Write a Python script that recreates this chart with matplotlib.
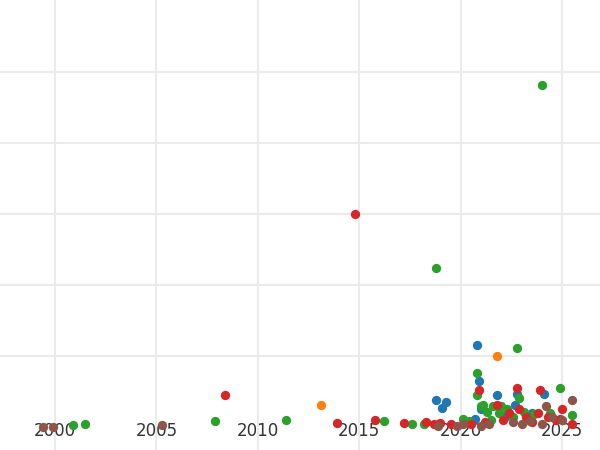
import matplotlib
matplotlib.use("Agg")
import matplotlib.pyplot as plt

blue_x = [2020.8, 2020.9, 2021.8, 2018.8, 2019.3, 2019.1, 2022.8, 2024.1, 2022.7, 2021.0, 2020.7, 2023.5, 2022.2]
blue_y = [1.15, 0.65, 0.45, 0.39, 0.35, 0.27, 0.47, 0.47, 0.32, 0.25, 0.12, 0.2, 0.15]
orange_x = [2021.8, 2013.1]
orange_y = [1.0, 0.31]
green_x = [2024.0, 2018.8, 2022.8, 2020.8, 2021.1, 2022.9, 2024.9, 2000.9, 2001.5, 2007.9, 2011.4, 2016.2, 2017.6, 2018.2,
           2020.1, 2020.4, 2020.8, 2021.0, 2021.3, 2021.6, 2021.9, 2022.3, 2022.6, 2023.1, 2023.6, 2024.4, 2025.5, 2021.5, 2022.0]
green_y = [4.82, 2.24, 1.11, 0.77, 0.32, 0.41, 0.55, 0.03, 0.05, 0.09, 0.1, 0.09, 0.05, 0.05,
           0.11, 0.09, 0.45, 0.3, 0.22, 0.3, 0.2, 0.25, 0.15, 0.22, 0.18, 0.2, 0.17, 0.1, 0.3]
red_x = [2014.8, 2008.4, 2013.9, 2015.8, 2017.2, 2018.3, 2018.7, 2019.0, 2020.9, 2021.8, 2022.8, 2023.9, 2022.4,
         2022.1, 2022.9, 2023.2, 2023.5, 2023.8, 2024.3, 2024.7, 2025.0, 2025.5, 2020.5, 2021.2, 2019.5, 2024.9]
red_y = [3.0, 0.45, 0.06, 0.1, 0.06, 0.07, 0.04, 0.06, 0.52, 0.32, 0.55, 0.52, 0.2,
         0.1, 0.25, 0.15, 0.08, 0.2, 0.15, 0.1, 0.25, 0.05, 0.04, 0.07, 0.04, 0.12]
brown_x = [1999.4, 1999.9, 2005.3, 2018.9, 2020.1, 2021.4, 2022.6, 2023.4, 2024.2, 2024.5, 2025.0, 2025.5,
           2024.0, 2023.0, 2021.0, 2019.8]
brown_y = [0.0, 0.01, 0.03, 0.02, 0.04, 0.04, 0.07, 0.09, 0.3, 0.15, 0.1, 0.38, 0.04, 0.04, 0.02, 0.02]

fig = plt.figure(figsize=(6, 4.5), dpi=100)
ax = fig.add_axes([0, 0, 1, 1])
ax.set_facecolor("white")
series = [(blue_x, blue_y, "#1f77b4"), (orange_x, orange_y, "#ff7f0e"), (green_x, green_y, "#2ca02c"),
          (red_x, red_y, "#d62728"), (brown_x, brown_y, "#8c564b")]
for xs, ys, c in series:
    ax.scatter(xs, ys, s=45, color=c, zorder=3, linewidths=0)
ax.set_xlim(1997.29, 2026.87)
ax.set_xticks([2000, 2005, 2010, 2015, 2020, 2025])
ax.set_yticks([1, 2, 3, 4, 5])
ax.set_yticklabels([])
ax.grid(True, color="#ebebeb", linewidth=1.5, zorder=0)
for s in ax.spines.values():
    s.set_visible(False)
ax.tick_params(axis="x", direction="in", pad=-20, length=0, labelsize=12, labelcolor="#333333")
ax.tick_params(axis="y", length=0)
ax.set_ylim(-0.32, 6.01)
fig.savefig("out.png", dpi=100)
